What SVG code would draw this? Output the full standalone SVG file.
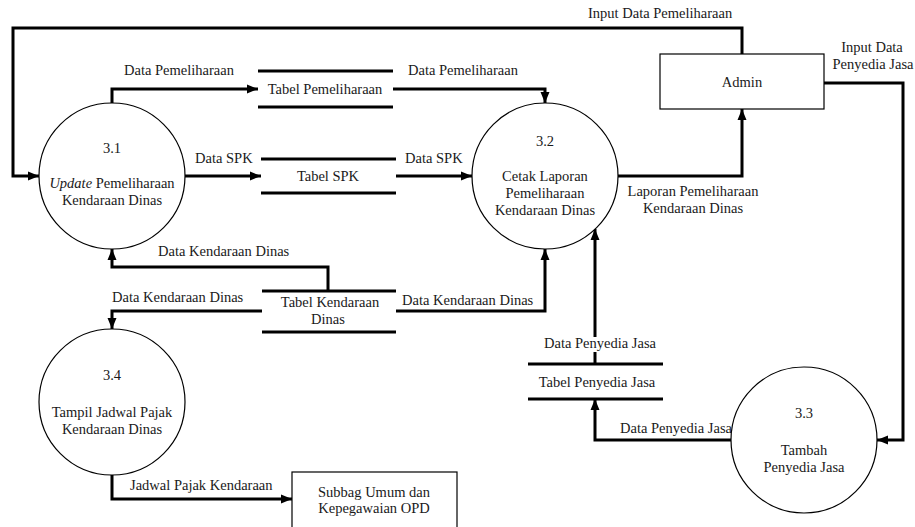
<svg xmlns="http://www.w3.org/2000/svg" width="915" height="527" viewBox="0 0 915 527">
<style>
text{font-family:'Liberation Serif','Times New Roman',Tinos,'DejaVu Serif','Noto Serif',serif;font-size:14.5px;fill:#1a1a1a}
.m{text-anchor:middle}
.e{text-anchor:end}
.proc{fill:#fff;stroke:#000;stroke-width:1.2}
.ent{fill:#fff;stroke:#000;stroke-width:1.2}
.store{stroke:#000;stroke-width:3;fill:none}
.flow{fill:none;stroke:#000;stroke-width:3;marker-end:url(#arr)}
</style>
<defs>
<marker id="arr" markerUnits="userSpaceOnUse" markerWidth="12" markerHeight="12" viewBox="0 0 12 12" refX="11" refY="6" orient="auto">
<path d="M0,1.5 L11,6 L0,10.5 Z" fill="#000"/>
</marker>
</defs>
<rect width="915" height="527" fill="#fff"/>
<g id="connectors" font-family="Liberation Serif, Times New Roman, serif">
<path class="flow" d="M742,54 V28 H13 V176 H39"/>
<path class="flow" d="M112,103 V89 H258"/>
<path class="flow" d="M393,89 H545 V103"/>
<path class="flow" d="M185,176 H261"/>
<path class="flow" d="M396,176 H472"/>
<path class="flow" d="M618,176 H742 V109"/>
<path class="flow" d="M824,83 H903 V440 H877"/>
<path class="flow" d="M328,291 V267 H112 V249"/>
<path class="flow" d="M262,311 H112 V329"/>
<path class="flow" d="M396,311 H545 V249"/>
<path class="flow" d="M595,364 V229"/>
<path class="flow" d="M731,440 H595 V399"/>
<path class="flow" d="M112,475 V499 H292"/>
<rect x="541" y="337" width="120" height="15" fill="#fff"/>
<text x="588" y="18">Input Data Pemeliharaan</text>
<text x="124" y="75">Data Pemeliharaan</text>
<text x="408" y="75">Data Pemeliharaan</text>
<text x="195" y="163">Data SPK</text>
<text x="405" y="163">Data SPK</text>
<text class="m" x="872" y="52">Input Data</text>
<text class="m" x="873" y="69">Penyedia Jasa</text>
<text class="m" x="693" y="196">Laporan Pemeliharaan</text>
<text class="m" x="693" y="213">Kendaraan Dinas</text>
<text x="158" y="256">Data Kendaraan Dinas</text>
<text x="112" y="302">Data Kendaraan Dinas</text>
<text x="402" y="305">Data Kendaraan Dinas</text>
<text class="m" x="600" y="348">Data Penyedia Jasa</text>
<text class="e" x="732" y="433">Data Penyedia Jasa</text>
<text x="130" y="490">Jadwal Pajak Kendaraan</text>
</g>
<g id="p31">
<circle class="proc" cx="112" cy="176" r="73"/>
<text class="m" x="112" y="153">3.1</text>
<text class="m" x="112" y="188"><tspan font-style="italic">Update</tspan> Pemeliharaan</text>
<text class="m" x="112" y="205">Kendaraan Dinas</text>
</g>
<g id="p32">
<circle class="proc" cx="545" cy="176" r="73"/>
<text class="m" x="545" y="146">3.2</text>
<text class="m" x="545" y="181">Cetak Laporan</text>
<text class="m" x="545" y="198">Pemeliharaan</text>
<text class="m" x="545" y="215">Kendaraan Dinas</text>
</g>
<g id="p33">
<circle class="proc" cx="804" cy="440" r="73"/>
<text class="m" x="804" y="418">3.3</text>
<text class="m" x="804" y="455">Tambah</text>
<text class="m" x="804" y="472">Penyedia Jasa</text>
</g>
<g id="p34">
<circle class="proc" cx="112" cy="402" r="73"/>
<text class="m" x="112" y="380">3.4</text>
<text class="m" x="112" y="417">Tampil Jadwal Pajak</text>
<text class="m" x="112" y="434">Kendaraan Dinas</text>
</g>
<g id="admin">
<rect class="ent" x="660" y="54" width="164" height="55"/>
<text class="m" x="742" y="87">Admin</text>
</g>
<g id="subbag">
<rect class="ent" x="292" y="472" width="165" height="60"/>
<text class="m" x="374" y="497">Subbag Umum dan</text>
<text class="m" x="374" y="513">Kepegawaian OPD</text>
</g>
<g id="s-pemeliharaan">
<path class="store" d="M258,71 H393 M258,107 H393"/>
<text class="m" x="325" y="94">Tabel Pemeliharaan</text>
</g>
<g id="s-spk">
<path class="store" d="M261,159 H396 M261,193 H396"/>
<text class="m" x="328" y="181">Tabel SPK</text>
</g>
<g id="s-kendaraan">
<path class="store" d="M262,291 H396 M262,332 H396"/>
<text class="m" x="330" y="307">Tabel Kendaraan</text>
<text class="m" x="328" y="324">Dinas</text>
</g>
<g id="s-penyedia">
<path class="store" d="M528,364 H663 M528,399 H663"/>
<text class="m" x="597" y="387">Tabel Penyedia Jasa</text>
</g>
</svg>
